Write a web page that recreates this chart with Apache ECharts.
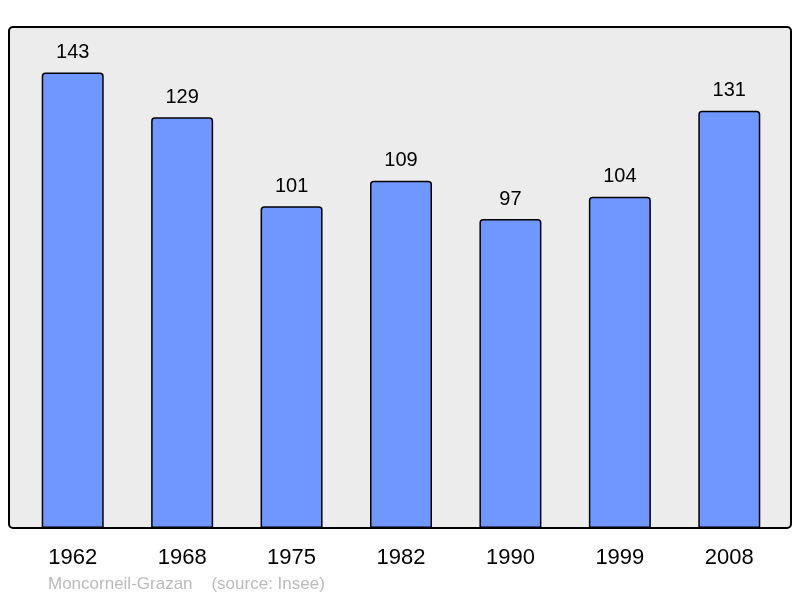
<!DOCTYPE html>
<html>
<head>
<meta charset="utf-8">
<script src="https://cdn.jsdelivr.net/npm/echarts@6/dist/echarts.min.js"></script>
<style>
  html, body { margin: 0; padding: 0; background: #fff; }
  #main { width: 800px; height: 598px; }
</style>
</head>
<body>
<div id="main"></div>
<script>
  // population par année
  var years = ['1962', '1968', '1975', '1982', '1990', '1999', '2008'];
  var population = [143, 129, 101, 109, 97, 104, 131];
  var commune = 'Moncorneil-Grazan';
  var source = '(source: Insee)';

  var myChart = echarts.init(document.getElementById('main'));
  var option = {
    animation: false,
    textStyle: { fontFamily: 'Liberation Sans, Arial, sans-serif' },
    graphic: [
      {
        type: 'rect',
        z: -1,
        shape: { x: 9, y: 27, width: 782, height: 501, r: 4 },
        style: { fill: '#ececec', stroke: '#000', lineWidth: 2 }
      },
      {
        type: 'text',
        left: 48,
        top: 576,
        style: {
          text: commune + '    ' + source,
          fill: '#bbbbbb',
          font: '17px Liberation Sans, Arial, sans-serif'
        }
      }
    ],
    grid: { left: 18, right: 16, top: 27, bottom: 70, containLabel: false },
    xAxis: {
      type: 'category',
      data: years,
      axisLine: { show: false },
      axisTick: { show: false },
      axisLabel: { color: '#000', fontSize: 22, margin: 19 }
    },
    yAxis: {
      type: 'value',
      min: 0,
      max: 157.3,
      show: false,
      splitLine: { show: false }
    },
    series: [
      {
        type: 'bar',
        data: population,
        barWidth: 62,
        itemStyle: {
          color: '#7096ff',
          borderColor: '#000',
          borderWidth: 1.5,
          borderRadius: [3, 3, 0, 0]
        },
        label: {
          show: true,
          position: 'top',
          distance: 10,
          color: '#000',
          fontSize: 20
        }
      }
    ]
  };
  myChart.setOption(option);
</script>
</body>
</html>
